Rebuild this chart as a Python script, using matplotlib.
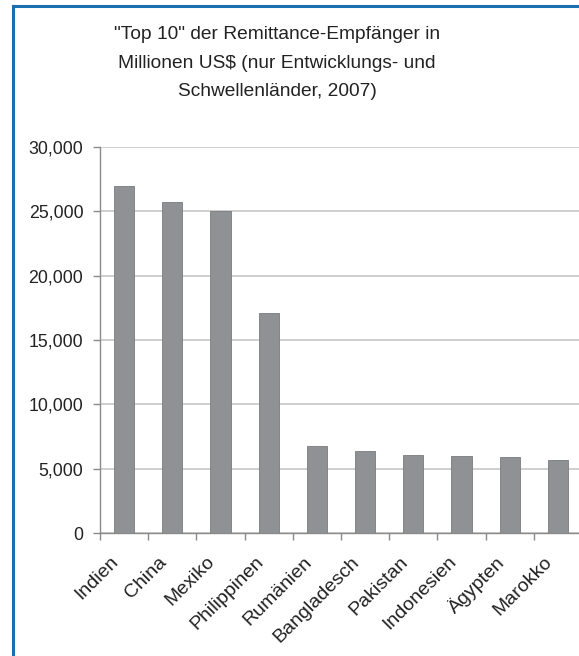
import numpy as np
import matplotlib.pyplot as plt
from matplotlib.lines import Line2D
from matplotlib.transforms import ScaledTranslation

plt.rcParams['font.family'] = ['Liberation Sans', 'DejaVu Sans']

# data (Mio. US$, 2007)
laender = ['Indien', 'China', 'Mexiko', 'Philippinen', 'Rumänien',
           'Bangladesch', 'Pakistan', 'Indonesien', 'Ägypten', 'Marokko']
werte = [27000, 25700, 25000, 17100, 6800, 6400, 6100, 6000, 5900, 5700]
yticks = [0, 5000, 10000, 15000, 20000, 25000, 30000]

fig = plt.figure(figsize=(5.79, 6.56), dpi=100)
ax = fig.add_axes([100/579, 1-533/656, 482/579, 386/656])

x = np.arange(len(laender))
ax.bar(x, werte, width=0.42, color='#909195', edgecolor='#7a7b7f', linewidth=0.6, zorder=3)

ax.set_xlim(-0.5, len(laender) - 0.5)
ax.set_ylim(0, 30000)
ax.set_yticks(yticks)
ax.set_yticklabels(['{:,}'.format(v) for v in yticks], fontsize=12.8, color='#222222')
ax.yaxis.grid(True, color='#cfcfcf', linewidth=1.4, zorder=0)

ax.set_xticks(x)
ax.set_xticklabels(laender, rotation=45, ha='right', va='center', rotation_mode='anchor',
                   fontsize=14, color='#222222')
ax.tick_params(axis='x', length=0, pad=19)
verschiebung = ScaledTranslation(-8/100, 0, fig.dpi_scale_trans)
for lab in ax.get_xticklabels():
    lab.set_transform(lab.get_transform() + verschiebung)
ax.set_xticks(np.arange(len(laender) + 1) - 0.5, minor=True)
ax.tick_params(axis='x', which='minor', length=5, color='#8a8a8a', width=1)
ax.tick_params(axis='y', length=5, color='#8a8a8a', width=1, pad=7)

for s in ['top', 'right']:
    ax.spines[s].set_visible(False)
for s in ['left', 'bottom']:
    ax.spines[s].set_color('#8a8a8a')
    ax.spines[s].set_linewidth(1)

fig.text(277/579, 1-26/656,
         '"Top 10" der Remittance-Empfänger in\nMillionen US$ (nur Entwicklungs- und\nSchwellenländer, 2007)',
         ha='center', va='top', fontsize=13.8, linespacing=1.9, color='#222222')

# blue frame
blau = '#1a6fb0'
fig.add_artist(Line2D([13/579, 1], [1-6/656, 1-6/656], color=blau, linewidth=2.2,
                      transform=fig.transFigure))
fig.add_artist(Line2D([13/579, 13/579], [0, 1-6/656], color=blau, linewidth=2.2,
                      transform=fig.transFigure))

fig.savefig('out.png', dpi=100)
